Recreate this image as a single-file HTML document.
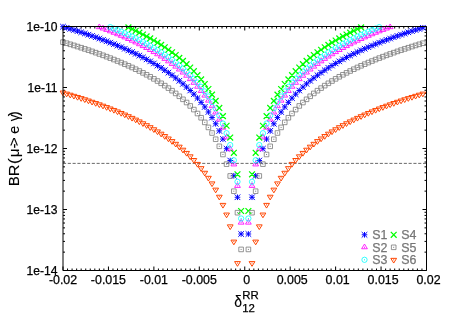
<!DOCTYPE html><html><head><meta charset="utf-8"><style>html,body{margin:0;padding:0;background:#fff}svg text{font-family:"Liberation Sans",sans-serif;fill:#000;stroke:#000;stroke-width:0.25px}</style></head><body><svg width="450" height="315" viewBox="0 0 450 315" style="display:block;will-change:transform">
<rect width="450" height="315" fill="#fff"/>
<path d="M63 270.5v-4M63 26.5v4M67.54 270.5v-2M67.54 26.5v2M72.09 270.5v-2M72.09 26.5v2M76.63 270.5v-2M76.63 26.5v2M81.17 270.5v-2M81.17 26.5v2M85.72 270.5v-2M85.72 26.5v2M90.26 270.5v-2M90.26 26.5v2M94.81 270.5v-2M94.81 26.5v2M99.35 270.5v-2M99.35 26.5v2M103.89 270.5v-2M103.89 26.5v2M108.44 270.5v-4M108.44 26.5v4M112.98 270.5v-2M112.98 26.5v2M117.53 270.5v-2M117.53 26.5v2M122.07 270.5v-2M122.07 26.5v2M126.61 270.5v-2M126.61 26.5v2M131.16 270.5v-2M131.16 26.5v2M135.7 270.5v-2M135.7 26.5v2M140.24 270.5v-2M140.24 26.5v2M144.79 270.5v-2M144.79 26.5v2M149.33 270.5v-2M149.33 26.5v2M153.88 270.5v-4M153.88 26.5v4M158.42 270.5v-2M158.42 26.5v2M162.96 270.5v-2M162.96 26.5v2M167.51 270.5v-2M167.51 26.5v2M172.05 270.5v-2M172.05 26.5v2M176.59 270.5v-2M176.59 26.5v2M181.14 270.5v-2M181.14 26.5v2M185.68 270.5v-2M185.68 26.5v2M190.22 270.5v-2M190.22 26.5v2M194.77 270.5v-2M194.77 26.5v2M199.31 270.5v-4M199.31 26.5v4M203.86 270.5v-2M203.86 26.5v2M208.4 270.5v-2M208.4 26.5v2M212.94 270.5v-2M212.94 26.5v2M217.49 270.5v-2M217.49 26.5v2M222.03 270.5v-2M222.03 26.5v2M226.58 270.5v-2M226.58 26.5v2M231.12 270.5v-2M231.12 26.5v2M235.66 270.5v-2M235.66 26.5v2M240.21 270.5v-2M240.21 26.5v2M244.75 270.5v-4M244.75 26.5v4M249.29 270.5v-2M249.29 26.5v2M253.84 270.5v-2M253.84 26.5v2M258.38 270.5v-2M258.38 26.5v2M262.92 270.5v-2M262.92 26.5v2M267.47 270.5v-2M267.47 26.5v2M272.01 270.5v-2M272.01 26.5v2M276.56 270.5v-2M276.56 26.5v2M281.1 270.5v-2M281.1 26.5v2M285.64 270.5v-2M285.64 26.5v2M290.19 270.5v-4M290.19 26.5v4M294.73 270.5v-2M294.73 26.5v2M299.27 270.5v-2M299.27 26.5v2M303.82 270.5v-2M303.82 26.5v2M308.36 270.5v-2M308.36 26.5v2M312.91 270.5v-2M312.91 26.5v2M317.45 270.5v-2M317.45 26.5v2M321.99 270.5v-2M321.99 26.5v2M326.54 270.5v-2M326.54 26.5v2M331.08 270.5v-2M331.08 26.5v2M335.62 270.5v-4M335.62 26.5v4M340.17 270.5v-2M340.17 26.5v2M344.71 270.5v-2M344.71 26.5v2M349.26 270.5v-2M349.26 26.5v2M353.8 270.5v-2M353.8 26.5v2M358.34 270.5v-2M358.34 26.5v2M362.89 270.5v-2M362.89 26.5v2M367.43 270.5v-2M367.43 26.5v2M371.98 270.5v-2M371.98 26.5v2M376.52 270.5v-2M376.52 26.5v2M381.06 270.5v-4M381.06 26.5v4M385.61 270.5v-2M385.61 26.5v2M390.15 270.5v-2M390.15 26.5v2M394.69 270.5v-2M394.69 26.5v2M399.24 270.5v-2M399.24 26.5v2M403.78 270.5v-2M403.78 26.5v2M408.32 270.5v-2M408.32 26.5v2M412.87 270.5v-2M412.87 26.5v2M417.41 270.5v-2M417.41 26.5v2M421.96 270.5v-2M421.96 26.5v2M426.5 270.5v-4M426.5 26.5v4M63 270.5h4M426.5 270.5h-4M63 252.14h2M426.5 252.14h-2M63 241.4h2M426.5 241.4h-2M63 233.77h2M426.5 233.77h-2M63 227.86h2M426.5 227.86h-2M63 223.03h2M426.5 223.03h-2M63 218.95h2M426.5 218.95h-2M63 215.41h2M426.5 215.41h-2M63 212.29h2M426.5 212.29h-2M63 209.5h4M426.5 209.5h-4M63 191.14h2M426.5 191.14h-2M63 180.4h2M426.5 180.4h-2M63 172.77h2M426.5 172.77h-2M63 166.86h2M426.5 166.86h-2M63 162.03h2M426.5 162.03h-2M63 157.95h2M426.5 157.95h-2M63 154.41h2M426.5 154.41h-2M63 151.29h2M426.5 151.29h-2M63 148.5h4M426.5 148.5h-4M63 130.14h2M426.5 130.14h-2M63 119.4h2M426.5 119.4h-2M63 111.77h2M426.5 111.77h-2M63 105.86h2M426.5 105.86h-2M63 101.03h2M426.5 101.03h-2M63 96.95h2M426.5 96.95h-2M63 93.41h2M426.5 93.41h-2M63 90.29h2M426.5 90.29h-2M63 87.5h4M426.5 87.5h-4M63 69.14h2M426.5 69.14h-2M63 58.4h2M426.5 58.4h-2M63 50.77h2M426.5 50.77h-2M63 44.86h2M426.5 44.86h-2M63 40.03h2M426.5 40.03h-2M63 35.95h2M426.5 35.95h-2M63 32.41h2M426.5 32.41h-2M63 29.29h2M426.5 29.29h-2M63 26.5h4M426.5 26.5h-4" stroke="#000" stroke-width="1.0" fill="none"/>
<path d="M63 163.39H426.5" stroke="#000" stroke-opacity="0.85" stroke-width="0.7" stroke-dasharray="3.1 1.7" fill="none"/>
<path d="M60.2 26.71H65.8M63 23.91V29.51M60.2 23.91L65.8 29.51M60.2 29.51L65.8 23.91M63.84 27.78H69.44M66.64 24.98V30.58M63.84 24.98L69.44 30.58M63.84 30.58L69.44 24.98M67.47 28.88H73.07M70.27 26.08V31.68M67.47 26.08L73.07 31.68M67.47 31.68L73.07 26.08M71.11 29.99H76.7M73.91 27.19V32.79M71.11 27.19L76.7 32.79M71.11 32.79L76.7 27.19M74.74 31.13H80.34M77.54 28.33V33.93M74.74 28.33L80.34 33.93M74.74 33.93L80.34 28.33M78.37 32.3H83.97M81.17 29.5V35.1M78.37 29.5L83.97 35.1M78.37 35.1L83.97 29.5M82.01 33.49H87.61M84.81 30.69V36.29M82.01 30.69L87.61 36.29M82.01 36.29L87.61 30.69M85.65 34.7H91.25M88.45 31.9V37.5M85.65 31.9L91.25 37.5M85.65 37.5L91.25 31.9M89.28 35.95H94.88M92.08 33.15V38.75M89.28 33.15L94.88 38.75M89.28 38.75L94.88 33.15M92.91 37.23H98.51M95.71 34.43V40.03M92.91 34.43L98.51 40.03M92.91 40.03L98.51 34.43M96.55 38.54H102.15M99.35 35.74V41.34M96.55 35.74L102.15 41.34M96.55 41.34L102.15 35.74M100.19 39.88H105.79M102.99 37.08V42.68M100.19 37.08L105.79 42.68M100.19 42.68L105.79 37.08M103.82 41.25H109.42M106.62 38.45V44.05M103.82 38.45L109.42 44.05M103.82 44.05L109.42 38.45M107.45 42.67H113.05M110.25 39.87V45.47M107.45 39.87L113.05 45.47M107.45 45.47L113.05 39.87M111.09 44.12H116.69M113.89 41.32V46.92M111.09 41.32L116.69 46.92M111.09 46.92L116.69 41.32M114.73 45.61H120.33M117.53 42.81V48.41M114.73 42.81L120.33 48.41M114.73 48.41L120.33 42.81M118.36 47.15H123.96M121.16 44.35V49.95M118.36 44.35L123.96 49.95M118.36 49.95L123.96 44.35M122 48.73H127.59M124.8 45.93V51.53M122 45.93L127.59 51.53M122 51.53L127.59 45.93M125.63 50.36H131.23M128.43 47.56V53.16M125.63 47.56L131.23 53.16M125.63 53.16L131.23 47.56M129.26 52.04H134.87M132.06 49.24V54.84M129.26 49.24L134.87 54.84M129.26 54.84L134.87 49.24M132.9 53.78H138.5M135.7 50.98V56.58M132.9 50.98L138.5 56.58M132.9 56.58L138.5 50.98M136.53 55.57H142.14M139.34 52.77V58.37M136.53 52.77L142.14 58.37M136.53 58.37L142.14 52.77M140.17 57.43H145.77M142.97 54.63V60.23M140.17 54.63L145.77 60.23M140.17 60.23L145.77 54.63M143.8 59.36H149.41M146.6 56.56V62.16M143.8 56.56L149.41 62.16M143.8 62.16L149.41 56.56M147.44 61.36H153.04M150.24 58.56V64.16M147.44 58.56L153.04 64.16M147.44 64.16L153.04 58.56M151.07 63.44H156.68M153.88 60.64V66.24M151.07 60.64L156.68 66.24M151.07 66.24L156.68 60.64M154.71 65.6H160.31M157.51 62.8V68.4M154.71 62.8L160.31 68.4M154.71 68.4L160.31 62.8M158.34 67.86H163.95M161.15 65.06V70.66M158.34 65.06L163.95 70.66M158.34 70.66L163.95 65.06M161.98 70.21H167.58M164.78 67.41V73.01M161.98 67.41L167.58 73.01M161.98 73.01L167.58 67.41M165.62 72.68H171.22M168.42 69.88V75.48M165.62 69.88L171.22 75.48M165.62 75.48L171.22 69.88M169.25 75.26H174.85M172.05 72.46V78.06M169.25 72.46L174.85 78.06M169.25 78.06L174.85 72.46M172.88 77.98H178.49M175.69 75.18V80.78M172.88 75.18L178.49 80.78M172.88 80.78L178.49 75.18M176.52 80.84H182.12M179.32 78.04V83.64M176.52 78.04L182.12 83.64M176.52 83.64L182.12 78.04M180.16 83.87H185.76M182.96 81.07V86.67M180.16 81.07L185.76 86.67M180.16 86.67L185.76 81.07M183.79 87.08H189.39M186.59 84.28V89.88M183.79 84.28L189.39 89.88M183.79 89.88L189.39 84.28M187.42 90.5H193.03M190.22 87.7V93.3M187.42 87.7L193.03 93.3M187.42 93.3L193.03 87.7M191.06 94.16H196.66M193.86 91.36V96.96M191.06 91.36L196.66 96.96M191.06 96.96L196.66 91.36M194.69 98.09H200.3M197.5 95.29V100.89M194.69 95.29L200.3 100.89M194.69 100.89L200.3 95.29M198.33 102.33H203.93M201.13 99.53V105.13M198.33 99.53L203.93 105.13M198.33 105.13L203.93 99.53M201.97 106.94H207.57M204.77 104.14V109.74M201.97 104.14L207.57 109.74M201.97 109.74L207.57 104.14M205.6 111.99H211.2M208.4 109.19V114.79M205.6 109.19L211.2 114.79M205.6 114.79L211.2 109.19M209.24 117.57H214.84M212.04 114.77V120.37M209.24 114.77L214.84 120.37M209.24 120.37L214.84 114.77M212.87 123.81H218.47M215.67 121.01V126.61M212.87 121.01L218.47 126.61M212.87 126.61L218.47 121.01M216.5 130.89H222.11M219.31 128.09V133.69M216.5 128.09L222.11 133.69M216.5 133.69L222.11 128.09M220.14 139.05H225.74M222.94 136.25V141.85M220.14 136.25L225.74 141.85M220.14 141.85L225.74 136.25M223.78 148.71H229.38M226.58 145.91V151.51M223.78 145.91L229.38 151.51M223.78 151.51L229.38 145.91M227.41 160.54H233.01M230.21 157.74V163.34M227.41 157.74L233.01 163.34M227.41 163.34L233.01 157.74M231.04 175.78H236.65M233.84 172.98V178.58M231.04 172.98L236.65 178.58M231.04 178.58L236.65 172.98M234.68 197.26H240.28M237.48 194.46V200.06M234.68 194.46L240.28 200.06M234.68 200.06L240.28 194.46M238.31 233.99H243.92M241.12 231.19V236.79M238.31 231.19L243.92 236.79M238.31 236.79L243.92 231.19M245.58 233.99H251.19M248.38 231.19V236.79M245.58 231.19L251.19 236.79M245.58 236.79L251.19 231.19M249.22 197.26H254.82M252.02 194.46V200.06M249.22 194.46L254.82 200.06M249.22 200.06L254.82 194.46M252.85 175.78H258.45M255.66 172.98V178.58M252.85 172.98L258.45 178.58M252.85 178.58L258.45 172.98M256.49 160.54H262.09M259.29 157.74V163.34M256.49 157.74L262.09 163.34M256.49 163.34L262.09 157.74M260.12 148.71H265.73M262.93 145.91V151.51M260.12 145.91L265.73 151.51M260.12 151.51L265.73 145.91M263.76 139.05H269.36M266.56 136.25V141.85M263.76 136.25L269.36 141.85M263.76 141.85L269.36 136.25M267.4 130.89H273M270.2 128.09V133.69M267.4 128.09L273 133.69M267.4 133.69L273 128.09M271.03 123.81H276.63M273.83 121.01V126.61M271.03 121.01L276.63 126.61M271.03 126.61L276.63 121.01M274.66 117.57H280.26M277.46 114.77V120.37M274.66 114.77L280.26 120.37M274.66 120.37L280.26 114.77M278.3 111.99H283.9M281.1 109.19V114.79M278.3 109.19L283.9 114.79M278.3 114.79L283.9 109.19M281.94 106.94H287.54M284.74 104.14V109.74M281.94 104.14L287.54 109.74M281.94 109.74L287.54 104.14M285.57 102.33H291.17M288.37 99.53V105.13M285.57 99.53L291.17 105.13M285.57 105.13L291.17 99.53M289.2 98.09H294.81M292 95.29V100.89M289.2 95.29L294.81 100.89M289.2 100.89L294.81 95.29M292.84 94.16H298.44M295.64 91.36V96.96M292.84 91.36L298.44 96.96M292.84 96.96L298.44 91.36M296.47 90.5H302.07M299.27 87.7V93.3M296.47 87.7L302.07 93.3M296.47 93.3L302.07 87.7M300.11 87.08H305.71M302.91 84.28V89.88M300.11 84.28L305.71 89.88M300.11 89.88L305.71 84.28M303.75 83.87H309.35M306.55 81.07V86.67M303.75 81.07L309.35 86.67M303.75 86.67L309.35 81.07M307.38 80.84H312.98M310.18 78.04V83.64M307.38 78.04L312.98 83.64M307.38 83.64L312.98 78.04M311.02 77.98H316.62M313.82 75.18V80.78M311.02 75.18L316.62 80.78M311.02 80.78L316.62 75.18M314.65 75.26H320.25M317.45 72.46V78.06M314.65 72.46L320.25 78.06M314.65 78.06L320.25 72.46M318.29 72.68H323.89M321.09 69.88V75.48M318.29 69.88L323.89 75.48M318.29 75.48L323.89 69.88M321.92 70.21H327.52M324.72 67.41V73.01M321.92 67.41L327.52 73.01M321.92 73.01L327.52 67.41M325.56 67.86H331.16M328.36 65.06V70.66M325.56 65.06L331.16 70.66M325.56 70.66L331.16 65.06M329.19 65.6H334.79M331.99 62.8V68.4M329.19 62.8L334.79 68.4M329.19 68.4L334.79 62.8M332.82 63.44H338.43M335.62 60.64V66.24M332.82 60.64L338.43 66.24M332.82 66.24L338.43 60.64M336.46 61.36H342.06M339.26 58.56V64.16M336.46 58.56L342.06 64.16M336.46 64.16L342.06 58.56M340.09 59.36H345.69M342.89 56.56V62.16M340.09 56.56L345.69 62.16M340.09 62.16L345.69 56.56M343.73 57.43H349.33M346.53 54.63V60.23M343.73 54.63L349.33 60.23M343.73 60.23L349.33 54.63M347.37 55.57H352.97M350.17 52.77V58.37M347.37 52.77L352.97 58.37M347.37 58.37L352.97 52.77M351 53.78H356.6M353.8 50.98V56.58M351 50.98L356.6 56.58M351 56.58L356.6 50.98M354.63 52.04H360.24M357.44 49.24V54.84M354.63 49.24L360.24 54.84M354.63 54.84L360.24 49.24M358.27 50.36H363.87M361.07 47.56V53.16M358.27 47.56L363.87 53.16M358.27 53.16L363.87 47.56M361.9 48.73H367.5M364.7 45.93V51.53M361.9 45.93L367.5 51.53M361.9 51.53L367.5 45.93M365.54 47.15H371.14M368.34 44.35V49.95M365.54 44.35L371.14 49.95M365.54 49.95L371.14 44.35M369.18 45.61H374.78M371.98 42.81V48.41M369.18 42.81L374.78 48.41M369.18 48.41L374.78 42.81M372.81 44.12H378.41M375.61 41.32V46.92M372.81 41.32L378.41 46.92M372.81 46.92L378.41 41.32M376.45 42.67H382.05M379.25 39.87V45.47M376.45 39.87L382.05 45.47M376.45 45.47L382.05 39.87M380.08 41.25H385.68M382.88 38.45V44.05M380.08 38.45L385.68 44.05M380.08 44.05L385.68 38.45M383.71 39.88H389.31M386.51 37.08V42.68M383.71 37.08L389.31 42.68M383.71 42.68L389.31 37.08M387.35 38.54H392.95M390.15 35.74V41.34M387.35 35.74L392.95 41.34M387.35 41.34L392.95 35.74M390.99 37.23H396.59M393.79 34.43V40.03M390.99 34.43L396.59 40.03M390.99 40.03L396.59 34.43M394.62 35.95H400.22M397.42 33.15V38.75M394.62 33.15L400.22 38.75M394.62 38.75L400.22 33.15M398.25 34.7H403.86M401.06 31.9V37.5M398.25 31.9L403.86 37.5M398.25 37.5L403.86 31.9M401.89 33.49H407.49M404.69 30.69V36.29M401.89 30.69L407.49 36.29M401.89 36.29L407.49 30.69M405.52 32.3H411.12M408.32 29.5V35.1M405.52 29.5L411.12 35.1M405.52 35.1L411.12 29.5M409.16 31.13H414.76M411.96 28.33V33.93M409.16 28.33L414.76 33.93M409.16 33.93L414.76 28.33M412.79 29.99H418.39M415.59 27.19V32.79M412.79 27.19L418.39 32.79M412.79 32.79L418.39 27.19M416.43 28.88H422.03M419.23 26.08V31.68M416.43 26.08L422.03 31.68M416.43 31.68L422.03 26.08M420.06 27.78H425.67M422.87 24.98V30.58M420.06 24.98L425.67 30.58M420.06 30.58L425.67 24.98" stroke="#0000ff" stroke-width="1.0" fill="none"/>
<path d="M99.35 23.98L96.45 28.68H102.25ZM102.99 25.32L100.09 30.02H105.89ZM106.62 26.7L103.72 31.4H109.52ZM110.25 28.11L107.35 32.81H113.16ZM113.89 29.56L110.99 34.26H116.79ZM117.53 31.06L114.62 35.76H120.43ZM121.16 32.59L118.26 37.29H124.06ZM124.8 34.18L121.89 38.87H127.7ZM128.43 35.81L125.53 40.5H131.33ZM132.06 37.49L129.16 42.19H134.97ZM135.7 39.23L132.8 43.92H138.6ZM139.34 41.02L136.44 45.72H142.24ZM142.97 42.88L140.07 47.58H145.87ZM146.6 44.81L143.7 49.51H149.5ZM150.24 46.81L147.34 51.51H153.14ZM153.88 48.89L150.97 53.58H156.78ZM157.51 51.05L154.61 55.75H160.41ZM161.15 53.3L158.25 58H164.05ZM164.78 55.66L161.88 60.36H167.68ZM168.42 58.12L165.52 62.82H171.32ZM172.05 60.71L169.15 65.41H174.95ZM175.69 63.43L172.78 68.12H178.59ZM179.32 66.29L176.42 70.99H182.22ZM182.96 69.32L180.06 74.02H185.86ZM186.59 72.53L183.69 77.23H189.49ZM190.22 75.95L187.32 80.65H193.12ZM193.86 79.61L190.96 84.3H196.76ZM197.5 83.53L194.59 88.23H200.4ZM201.13 87.77L198.23 92.47H204.03ZM204.77 92.38L201.87 97.08H207.67ZM208.4 97.43L205.5 102.13H211.3ZM212.04 103.02L209.14 107.71H214.94ZM215.67 109.26L212.77 113.95H218.57ZM219.31 116.33L216.41 121.03H222.21ZM222.94 124.5L220.04 129.2H225.84ZM226.58 134.16L223.68 138.86H229.48ZM230.21 145.98L227.31 150.68H233.11ZM233.84 161.23L230.94 165.92H236.75ZM237.48 182.71L234.58 187.41H240.38ZM241.12 219.43L238.22 224.13H244.02ZM248.38 219.43L245.48 224.13H251.28ZM252.02 182.71L249.12 187.41H254.92ZM255.66 161.23L252.75 165.92H258.56ZM259.29 145.98L256.39 150.68H262.19ZM262.93 134.16L260.03 138.86H265.82ZM266.56 124.5L263.66 129.2H269.46ZM270.2 116.33L267.3 121.03H273.1ZM273.83 109.26L270.93 113.95H276.73ZM277.46 103.02L274.56 107.71H280.36ZM281.1 97.43L278.2 102.13H284ZM284.74 92.38L281.84 97.08H287.63ZM288.37 87.77L285.47 92.47H291.27ZM292 83.53L289.11 88.23H294.9ZM295.64 79.61L292.74 84.3H298.54ZM299.27 75.95L296.38 80.65H302.17ZM302.91 72.53L300.01 77.23H305.81ZM306.55 69.32L303.65 74.02H309.44ZM310.18 66.29L307.28 70.99H313.08ZM313.82 63.43L310.92 68.12H316.72ZM317.45 60.71L314.55 65.41H320.35ZM321.09 58.12L318.19 62.82H323.99ZM324.72 55.66L321.82 60.36H327.62ZM328.36 53.3L325.46 58H331.25ZM331.99 51.05L329.09 55.75H334.89ZM335.62 48.89L332.73 53.58H338.52ZM339.26 46.81L336.36 51.51H342.16ZM342.89 44.81L340 49.51H345.79ZM346.53 42.88L343.63 47.58H349.43ZM350.17 41.02L347.27 45.72H353.06ZM353.8 39.23L350.9 43.92H356.7ZM357.44 37.49L354.54 42.19H360.33ZM361.07 35.81L358.17 40.5H363.97ZM364.7 34.18L361.81 38.87H367.6ZM368.34 32.59L365.44 37.29H371.24ZM371.98 31.06L369.08 35.76H374.88ZM375.61 29.56L372.71 34.26H378.51ZM379.25 28.11L376.35 32.81H382.15ZM382.88 26.7L379.98 31.4H385.78ZM386.51 25.32L383.62 30.02H389.41ZM390.15 23.98L387.25 28.68H393.05Z" stroke="#ff00ff" stroke-width="0.85" fill="none"/>
<path d="M98.85 27.23h1M102.49 28.57h1M106.12 29.95h1M109.75 31.36h1M113.39 32.81h1M117.03 34.31h1M120.66 35.84h1M124.3 37.42h1M127.93 39.05h1M131.56 40.74h1M135.2 42.47h1M138.84 44.27h1M142.47 46.13h1M146.1 48.06h1M149.74 50.06h1M153.38 52.13h1M157.01 54.3h1M160.65 56.55h1M164.28 58.91h1M167.92 61.37h1M171.55 63.96h1M175.19 66.67h1M178.82 69.54h1M182.46 72.57h1M186.09 75.78h1M189.72 79.2h1M193.36 82.85h1M197 86.78h1M200.63 91.02h1M204.27 95.63h1M207.9 100.68h1M211.54 106.26h1M215.17 112.5h1M218.81 119.58h1M222.44 127.75h1M226.08 137.41h1M229.71 149.23h1M233.34 164.47h1M236.98 185.96h1M240.62 222.68h1M247.88 222.68h1M251.52 185.96h1M255.16 164.47h1M258.79 149.23h1M262.43 137.41h1M266.06 127.75h1M269.7 119.58h1M273.33 112.5h1M276.96 106.26h1M280.6 100.68h1M284.24 95.63h1M287.87 91.02h1M291.5 86.78h1M295.14 82.85h1M298.77 79.2h1M302.41 75.78h1M306.05 72.57h1M309.68 69.54h1M313.32 66.67h1M316.95 63.96h1M320.59 61.37h1M324.22 58.91h1M327.86 56.55h1M331.49 54.3h1M335.12 52.13h1M338.76 50.06h1M342.39 48.06h1M346.03 46.13h1M349.67 44.27h1M353.3 42.47h1M356.94 40.74h1M360.57 39.05h1M364.2 37.42h1M367.84 35.84h1M371.48 34.31h1M375.11 32.81h1M378.75 31.36h1M382.38 29.95h1M386.01 28.57h1M389.65 27.23h1" stroke="#ff00ff" stroke-width="1" fill="none"/>
<path d="M107.6 27.18a2.65 2.65 0 1 0 5.3 0a2.65 2.65 0 1 0 -5.3 0M111.24 28.63a2.65 2.65 0 1 0 5.3 0a2.65 2.65 0 1 0 -5.3 0M114.88 30.12a2.65 2.65 0 1 0 5.3 0a2.65 2.65 0 1 0 -5.3 0M118.51 31.66a2.65 2.65 0 1 0 5.3 0a2.65 2.65 0 1 0 -5.3 0M122.14 33.24a2.65 2.65 0 1 0 5.3 0a2.65 2.65 0 1 0 -5.3 0M125.78 34.87a2.65 2.65 0 1 0 5.3 0a2.65 2.65 0 1 0 -5.3 0M129.41 36.55a2.65 2.65 0 1 0 5.3 0a2.65 2.65 0 1 0 -5.3 0M133.05 38.29a2.65 2.65 0 1 0 5.3 0a2.65 2.65 0 1 0 -5.3 0M136.69 40.09a2.65 2.65 0 1 0 5.3 0a2.65 2.65 0 1 0 -5.3 0M140.32 41.95a2.65 2.65 0 1 0 5.3 0a2.65 2.65 0 1 0 -5.3 0M143.95 43.87a2.65 2.65 0 1 0 5.3 0a2.65 2.65 0 1 0 -5.3 0M147.59 45.87a2.65 2.65 0 1 0 5.3 0a2.65 2.65 0 1 0 -5.3 0M151.22 47.95a2.65 2.65 0 1 0 5.3 0a2.65 2.65 0 1 0 -5.3 0M154.86 50.11a2.65 2.65 0 1 0 5.3 0a2.65 2.65 0 1 0 -5.3 0M158.5 52.37a2.65 2.65 0 1 0 5.3 0a2.65 2.65 0 1 0 -5.3 0M162.13 54.72a2.65 2.65 0 1 0 5.3 0a2.65 2.65 0 1 0 -5.3 0M165.77 57.19a2.65 2.65 0 1 0 5.3 0a2.65 2.65 0 1 0 -5.3 0M169.4 59.77a2.65 2.65 0 1 0 5.3 0a2.65 2.65 0 1 0 -5.3 0M173.03 62.49a2.65 2.65 0 1 0 5.3 0a2.65 2.65 0 1 0 -5.3 0M176.67 65.36a2.65 2.65 0 1 0 5.3 0a2.65 2.65 0 1 0 -5.3 0M180.31 68.38a2.65 2.65 0 1 0 5.3 0a2.65 2.65 0 1 0 -5.3 0M183.94 71.6a2.65 2.65 0 1 0 5.3 0a2.65 2.65 0 1 0 -5.3 0M187.57 75.02a2.65 2.65 0 1 0 5.3 0a2.65 2.65 0 1 0 -5.3 0M191.21 78.67a2.65 2.65 0 1 0 5.3 0a2.65 2.65 0 1 0 -5.3 0M194.84 82.6a2.65 2.65 0 1 0 5.3 0a2.65 2.65 0 1 0 -5.3 0M198.48 86.84a2.65 2.65 0 1 0 5.3 0a2.65 2.65 0 1 0 -5.3 0M202.12 91.45a2.65 2.65 0 1 0 5.3 0a2.65 2.65 0 1 0 -5.3 0M205.75 96.5a2.65 2.65 0 1 0 5.3 0a2.65 2.65 0 1 0 -5.3 0M209.39 102.08a2.65 2.65 0 1 0 5.3 0a2.65 2.65 0 1 0 -5.3 0M213.02 108.32a2.65 2.65 0 1 0 5.3 0a2.65 2.65 0 1 0 -5.3 0M216.66 115.4a2.65 2.65 0 1 0 5.3 0a2.65 2.65 0 1 0 -5.3 0M220.29 123.56a2.65 2.65 0 1 0 5.3 0a2.65 2.65 0 1 0 -5.3 0M223.93 133.22a2.65 2.65 0 1 0 5.3 0a2.65 2.65 0 1 0 -5.3 0M227.56 145.05a2.65 2.65 0 1 0 5.3 0a2.65 2.65 0 1 0 -5.3 0M231.19 160.29a2.65 2.65 0 1 0 5.3 0a2.65 2.65 0 1 0 -5.3 0M234.83 181.77a2.65 2.65 0 1 0 5.3 0a2.65 2.65 0 1 0 -5.3 0M238.47 218.5a2.65 2.65 0 1 0 5.3 0a2.65 2.65 0 1 0 -5.3 0M245.73 218.5a2.65 2.65 0 1 0 5.3 0a2.65 2.65 0 1 0 -5.3 0M249.37 181.77a2.65 2.65 0 1 0 5.3 0a2.65 2.65 0 1 0 -5.3 0M253 160.29a2.65 2.65 0 1 0 5.3 0a2.65 2.65 0 1 0 -5.3 0M256.64 145.05a2.65 2.65 0 1 0 5.3 0a2.65 2.65 0 1 0 -5.3 0M260.28 133.22a2.65 2.65 0 1 0 5.3 0a2.65 2.65 0 1 0 -5.3 0M263.91 123.56a2.65 2.65 0 1 0 5.3 0a2.65 2.65 0 1 0 -5.3 0M267.55 115.4a2.65 2.65 0 1 0 5.3 0a2.65 2.65 0 1 0 -5.3 0M271.18 108.32a2.65 2.65 0 1 0 5.3 0a2.65 2.65 0 1 0 -5.3 0M274.81 102.08a2.65 2.65 0 1 0 5.3 0a2.65 2.65 0 1 0 -5.3 0M278.45 96.5a2.65 2.65 0 1 0 5.3 0a2.65 2.65 0 1 0 -5.3 0M282.09 91.45a2.65 2.65 0 1 0 5.3 0a2.65 2.65 0 1 0 -5.3 0M285.72 86.84a2.65 2.65 0 1 0 5.3 0a2.65 2.65 0 1 0 -5.3 0M289.36 82.6a2.65 2.65 0 1 0 5.3 0a2.65 2.65 0 1 0 -5.3 0M292.99 78.67a2.65 2.65 0 1 0 5.3 0a2.65 2.65 0 1 0 -5.3 0M296.62 75.02a2.65 2.65 0 1 0 5.3 0a2.65 2.65 0 1 0 -5.3 0M300.26 71.6a2.65 2.65 0 1 0 5.3 0a2.65 2.65 0 1 0 -5.3 0M303.9 68.38a2.65 2.65 0 1 0 5.3 0a2.65 2.65 0 1 0 -5.3 0M307.53 65.36a2.65 2.65 0 1 0 5.3 0a2.65 2.65 0 1 0 -5.3 0M311.17 62.49a2.65 2.65 0 1 0 5.3 0a2.65 2.65 0 1 0 -5.3 0M314.8 59.77a2.65 2.65 0 1 0 5.3 0a2.65 2.65 0 1 0 -5.3 0M318.44 57.19a2.65 2.65 0 1 0 5.3 0a2.65 2.65 0 1 0 -5.3 0M322.07 54.72a2.65 2.65 0 1 0 5.3 0a2.65 2.65 0 1 0 -5.3 0M325.71 52.37a2.65 2.65 0 1 0 5.3 0a2.65 2.65 0 1 0 -5.3 0M329.34 50.11a2.65 2.65 0 1 0 5.3 0a2.65 2.65 0 1 0 -5.3 0M332.98 47.95a2.65 2.65 0 1 0 5.3 0a2.65 2.65 0 1 0 -5.3 0M336.61 45.87a2.65 2.65 0 1 0 5.3 0a2.65 2.65 0 1 0 -5.3 0M340.25 43.87a2.65 2.65 0 1 0 5.3 0a2.65 2.65 0 1 0 -5.3 0M343.88 41.95a2.65 2.65 0 1 0 5.3 0a2.65 2.65 0 1 0 -5.3 0M347.52 40.09a2.65 2.65 0 1 0 5.3 0a2.65 2.65 0 1 0 -5.3 0M351.15 38.29a2.65 2.65 0 1 0 5.3 0a2.65 2.65 0 1 0 -5.3 0M354.79 36.55a2.65 2.65 0 1 0 5.3 0a2.65 2.65 0 1 0 -5.3 0M358.42 34.87a2.65 2.65 0 1 0 5.3 0a2.65 2.65 0 1 0 -5.3 0M362.06 33.24a2.65 2.65 0 1 0 5.3 0a2.65 2.65 0 1 0 -5.3 0M365.69 31.66a2.65 2.65 0 1 0 5.3 0a2.65 2.65 0 1 0 -5.3 0M369.33 30.12a2.65 2.65 0 1 0 5.3 0a2.65 2.65 0 1 0 -5.3 0M372.96 28.63a2.65 2.65 0 1 0 5.3 0a2.65 2.65 0 1 0 -5.3 0M376.6 27.18a2.65 2.65 0 1 0 5.3 0a2.65 2.65 0 1 0 -5.3 0" stroke="#00ffff" stroke-width="0.8" fill="none"/>
<path d="M109.75 27.18h1M113.39 28.63h1M117.03 30.12h1M120.66 31.66h1M124.3 33.24h1M127.93 34.87h1M131.56 36.55h1M135.2 38.29h1M138.84 40.09h1M142.47 41.95h1M146.1 43.87h1M149.74 45.87h1M153.38 47.95h1M157.01 50.11h1M160.65 52.37h1M164.28 54.72h1M167.92 57.19h1M171.55 59.77h1M175.19 62.49h1M178.82 65.36h1M182.46 68.38h1M186.09 71.6h1M189.72 75.02h1M193.36 78.67h1M197 82.6h1M200.63 86.84h1M204.27 91.45h1M207.9 96.5h1M211.54 102.08h1M215.17 108.32h1M218.81 115.4h1M222.44 123.56h1M226.08 133.22h1M229.71 145.05h1M233.34 160.29h1M236.98 181.77h1M240.62 218.5h1M247.88 218.5h1M251.52 181.77h1M255.16 160.29h1M258.79 145.05h1M262.43 133.22h1M266.06 123.56h1M269.7 115.4h1M273.33 108.32h1M276.96 102.08h1M280.6 96.5h1M284.24 91.45h1M287.87 86.84h1M291.5 82.6h1M295.14 78.67h1M298.77 75.02h1M302.41 71.6h1M306.05 68.38h1M309.68 65.36h1M313.32 62.49h1M316.95 59.77h1M320.59 57.19h1M324.22 54.72h1M327.86 52.37h1M331.49 50.11h1M335.12 47.95h1M338.76 45.87h1M342.39 43.87h1M346.03 41.95h1M349.67 40.09h1M353.3 38.29h1M356.94 36.55h1M360.57 34.87h1M364.2 33.24h1M367.84 31.66h1M371.48 30.12h1M375.11 28.63h1M378.75 27.18h1" stroke="#00ffff" stroke-width="1" fill="none"/>
<path d="M125.53 24.5L131.33 30.3M125.53 30.3L131.33 24.5M129.16 26.18L134.97 31.98M129.16 31.98L134.97 26.18M132.8 27.92L138.6 33.72M132.8 33.72L138.6 27.92M136.44 29.71L142.24 35.51M136.44 35.51L142.24 29.71M140.07 31.57L145.87 37.37M140.07 37.37L145.87 31.57M143.7 33.5L149.5 39.3M143.7 39.3L149.5 33.5M147.34 35.5L153.14 41.3M147.34 41.3L153.14 35.5M150.97 37.58L156.78 43.38M150.97 43.38L156.78 37.58M154.61 39.74L160.41 45.54M154.61 45.54L160.41 39.74M158.25 42L164.05 47.8M158.25 47.8L164.05 42M161.88 44.35L167.68 50.15M161.88 50.15L167.68 44.35M165.52 46.82L171.32 52.62M165.52 52.62L171.32 46.82M169.15 49.4L174.95 55.2M169.15 55.2L174.95 49.4M172.78 52.12L178.59 57.92M172.78 57.92L178.59 52.12M176.42 54.98L182.22 60.78M176.42 60.78L182.22 54.98M180.06 58.01L185.86 63.81M180.06 63.81L185.86 58.01M183.69 61.22L189.49 67.02M183.69 67.02L189.49 61.22M187.32 64.64L193.12 70.44M187.32 70.44L193.12 64.64M190.96 68.3L196.76 74.1M190.96 74.1L196.76 68.3M194.59 72.23L200.4 78.03M194.59 78.03L200.4 72.23M198.23 76.47L204.03 82.27M198.23 82.27L204.03 76.47M201.87 81.08L207.67 86.88M201.87 86.88L207.67 81.08M205.5 86.13L211.3 91.93M205.5 91.93L211.3 86.13M209.14 91.71L214.94 97.51M209.14 97.51L214.94 91.71M212.77 97.95L218.57 103.75M212.77 103.75L218.57 97.95M216.41 105.02L222.21 110.82M216.41 110.82L222.21 105.02M220.04 113.19L225.84 118.99M220.04 118.99L225.84 113.19M223.68 122.85L229.48 128.65M223.68 128.65L229.48 122.85M227.31 134.68L233.11 140.48M227.31 140.48L233.11 134.68M230.94 149.92L236.75 155.72M230.94 155.72L236.75 149.92M234.58 171.4L240.38 177.2M234.58 177.2L240.38 171.4M238.22 208.13L244.02 213.93M238.22 213.93L244.02 208.13M245.48 208.13L251.28 213.93M245.48 213.93L251.28 208.13M249.12 171.4L254.92 177.2M249.12 177.2L254.92 171.4M252.75 149.92L258.56 155.72M252.75 155.72L258.56 149.92M256.39 134.68L262.19 140.48M256.39 140.48L262.19 134.68M260.03 122.85L265.82 128.65M260.03 128.65L265.82 122.85M263.66 113.19L269.46 118.99M263.66 118.99L269.46 113.19M267.3 105.02L273.1 110.82M267.3 110.82L273.1 105.02M270.93 97.95L276.73 103.75M270.93 103.75L276.73 97.95M274.56 91.71L280.36 97.51M274.56 97.51L280.36 91.71M278.2 86.13L284 91.93M278.2 91.93L284 86.13M281.84 81.08L287.63 86.88M281.84 86.88L287.63 81.08M285.47 76.47L291.27 82.27M285.47 82.27L291.27 76.47M289.11 72.23L294.9 78.03M289.11 78.03L294.9 72.23M292.74 68.3L298.54 74.1M292.74 74.1L298.54 68.3M296.38 64.64L302.17 70.44M296.38 70.44L302.17 64.64M300.01 61.22L305.81 67.02M300.01 67.02L305.81 61.22M303.65 58.01L309.44 63.81M303.65 63.81L309.44 58.01M307.28 54.98L313.08 60.78M307.28 60.78L313.08 54.98M310.92 52.12L316.72 57.92M310.92 57.92L316.72 52.12M314.55 49.4L320.35 55.2M314.55 55.2L320.35 49.4M318.19 46.82L323.99 52.62M318.19 52.62L323.99 46.82M321.82 44.35L327.62 50.15M321.82 50.15L327.62 44.35M325.46 42L331.25 47.8M325.46 47.8L331.25 42M329.09 39.74L334.89 45.54M329.09 45.54L334.89 39.74M332.73 37.58L338.52 43.38M332.73 43.38L338.52 37.58M336.36 35.5L342.16 41.3M336.36 41.3L342.16 35.5M340 33.5L345.79 39.3M340 39.3L345.79 33.5M343.63 31.57L349.43 37.37M343.63 37.37L349.43 31.57M347.27 29.71L353.06 35.51M347.27 35.51L353.06 29.71M350.9 27.92L356.7 33.72M350.9 33.72L356.7 27.92M354.54 26.18L360.33 31.98M354.54 31.98L360.33 26.18M358.17 24.5L363.97 30.3M358.17 30.3L363.97 24.5" stroke="#00ff00" stroke-width="1.25" fill="none"/>
<path d="M60.7 39.85H65.3V44.45H60.7ZM64.34 40.92H68.94V45.52H64.34ZM67.97 42.01H72.57V46.61H67.97ZM71.61 43.12H76.2V47.72H71.61ZM75.24 44.26H79.84V48.86H75.24ZM78.87 45.43H83.47V50.03H78.87ZM82.51 46.62H87.11V51.22H82.51ZM86.15 47.84H90.75V52.44H86.15ZM89.78 49.08H94.38V53.68H89.78ZM93.41 50.36H98.01V54.96H93.41ZM97.05 51.67H101.65V56.27H97.05ZM100.69 53.01H105.29V57.61H100.69ZM104.32 54.39H108.92V58.99H104.32ZM107.95 55.8H112.55V60.4H107.95ZM111.59 57.25H116.19V61.85H111.59ZM115.23 58.74H119.83V63.34H115.23ZM118.86 60.28H123.46V64.88H118.86ZM122.5 61.86H127.09V66.46H122.5ZM126.13 63.49H130.73V68.09H126.13ZM129.76 65.17H134.37V69.77H129.76ZM133.4 66.91H138V71.51H133.4ZM137.03 68.71H141.64V73.31H137.03ZM140.67 70.57H145.27V75.17H140.67ZM144.3 72.49H148.91V77.09H144.3ZM147.94 74.49H152.54V79.09H147.94ZM151.57 76.57H156.18V81.17H151.57ZM155.21 78.73H159.81V83.33H155.21ZM158.84 80.99H163.45V85.59H158.84ZM162.48 83.34H167.08V87.94H162.48ZM166.12 85.81H170.72V90.41H166.12ZM169.75 88.39H174.35V92.99H169.75ZM173.38 91.11H177.99V95.71H173.38ZM177.02 93.98H181.62V98.58H177.02ZM180.66 97.01H185.26V101.61H180.66ZM184.29 100.22H188.89V104.82H184.29ZM187.92 103.64H192.53V108.24H187.92ZM191.56 107.29H196.16V111.89H191.56ZM195.19 111.22H199.8V115.82H195.19ZM198.83 115.46H203.43V120.06H198.83ZM202.47 120.07H207.07V124.67H202.47ZM206.1 125.12H210.7V129.72H206.1ZM209.74 130.7H214.34V135.3H209.74ZM213.37 136.94H217.97V141.54H213.37ZM217 144.02H221.61V148.62H217ZM220.64 152.19H225.24V156.79H220.64ZM224.28 161.85H228.88V166.45H224.28ZM227.91 173.67H232.51V178.27H227.91ZM231.54 188.91H236.15V193.51H231.54ZM235.18 210.39H239.78V214.99H235.18ZM238.81 247.12H243.42V251.72H238.81ZM246.08 247.12H250.69V251.72H246.08ZM249.72 210.39H254.32V214.99H249.72ZM253.35 188.91H257.95V193.51H253.35ZM256.99 173.67H261.59V178.27H256.99ZM260.62 161.85H265.23V166.45H260.62ZM264.26 152.19H268.86V156.79H264.26ZM267.9 144.02H272.5V148.62H267.9ZM271.53 136.94H276.13V141.54H271.53ZM275.16 130.7H279.76V135.3H275.16ZM278.8 125.12H283.4V129.72H278.8ZM282.44 120.07H287.04V124.67H282.44ZM286.07 115.46H290.67V120.06H286.07ZM289.7 111.22H294.31V115.82H289.7ZM293.34 107.29H297.94V111.89H293.34ZM296.97 103.64H301.57V108.24H296.97ZM300.61 100.22H305.21V104.82H300.61ZM304.25 97.01H308.85V101.61H304.25ZM307.88 93.98H312.48V98.58H307.88ZM311.52 91.11H316.12V95.71H311.52ZM315.15 88.39H319.75V92.99H315.15ZM318.79 85.81H323.39V90.41H318.79ZM322.42 83.34H327.02V87.94H322.42ZM326.06 80.99H330.66V85.59H326.06ZM329.69 78.73H334.29V83.33H329.69ZM333.32 76.57H337.93V81.17H333.32ZM336.96 74.49H341.56V79.09H336.96ZM340.59 72.49H345.19V77.09H340.59ZM344.23 70.57H348.83V75.17H344.23ZM347.87 68.71H352.47V73.31H347.87ZM351.5 66.91H356.1V71.51H351.5ZM355.13 65.17H359.74V69.77H355.13ZM358.77 63.49H363.37V68.09H358.77ZM362.4 61.86H367V66.46H362.4ZM366.04 60.28H370.64V64.88H366.04ZM369.68 58.74H374.28V63.34H369.68ZM373.31 57.25H377.91V61.85H373.31ZM376.95 55.8H381.55V60.4H376.95ZM380.58 54.39H385.18V58.99H380.58ZM384.21 53.01H388.81V57.61H384.21ZM387.85 51.67H392.45V56.27H387.85ZM391.49 50.36H396.09V54.96H391.49ZM395.12 49.08H399.72V53.68H395.12ZM398.75 47.84H403.36V52.44H398.75ZM402.39 46.62H406.99V51.22H402.39ZM406.02 45.43H410.62V50.03H406.02ZM409.66 44.26H414.26V48.86H409.66ZM413.29 43.12H417.89V47.72H413.29ZM416.93 42.01H421.53V46.61H416.93ZM420.56 40.92H425.17V45.52H420.56Z" stroke="#7a7a7a" stroke-width="0.8" fill="none"/>
<path d="M62.5 42.15h1M66.14 43.22h1M69.77 44.31h1M73.41 45.42h1M77.04 46.56h1M80.67 47.73h1M84.31 48.92h1M87.95 50.14h1M91.58 51.38h1M95.21 52.66h1M98.85 53.97h1M102.49 55.31h1M106.12 56.69h1M109.75 58.1h1M113.39 59.55h1M117.03 61.04h1M120.66 62.58h1M124.3 64.16h1M127.93 65.79h1M131.56 67.47h1M135.2 69.21h1M138.84 71.01h1M142.47 72.87h1M146.1 74.79h1M149.74 76.79h1M153.38 78.87h1M157.01 81.03h1M160.65 83.29h1M164.28 85.64h1M167.92 88.11h1M171.55 90.69h1M175.19 93.41h1M178.82 96.28h1M182.46 99.31h1M186.09 102.52h1M189.72 105.94h1M193.36 109.59h1M197 113.52h1M200.63 117.76h1M204.27 122.37h1M207.9 127.42h1M211.54 133h1M215.17 139.24h1M218.81 146.32h1M222.44 154.49h1M226.08 164.15h1M229.71 175.97h1M233.34 191.21h1M236.98 212.69h1M240.62 249.42h1M247.88 249.42h1M251.52 212.69h1M255.16 191.21h1M258.79 175.97h1M262.43 164.15h1M266.06 154.49h1M269.7 146.32h1M273.33 139.24h1M276.96 133h1M280.6 127.42h1M284.24 122.37h1M287.87 117.76h1M291.5 113.52h1M295.14 109.59h1M298.77 105.94h1M302.41 102.52h1M306.05 99.31h1M309.68 96.28h1M313.32 93.41h1M316.95 90.69h1M320.59 88.11h1M324.22 85.64h1M327.86 83.29h1M331.49 81.03h1M335.12 78.87h1M338.76 76.79h1M342.39 74.79h1M346.03 72.87h1M349.67 71.01h1M353.3 69.21h1M356.94 67.47h1M360.57 65.79h1M364.2 64.16h1M367.84 62.58h1M371.48 61.04h1M375.11 59.55h1M378.75 58.1h1M382.38 56.69h1M386.01 55.31h1M389.65 53.97h1M393.29 52.66h1M396.92 51.38h1M400.56 50.14h1M404.19 48.92h1M407.82 47.73h1M411.46 46.56h1M415.09 45.42h1M418.73 44.31h1M422.37 43.22h1" stroke="#7a7a7a" stroke-width="1" fill="none"/>
<path d="M63 95.75L60.1 91.05H65.9ZM66.64 96.82L63.74 92.12H69.54ZM70.27 97.91L67.37 93.21H73.17ZM73.91 99.03L71 94.33H76.81ZM77.54 100.17L74.64 95.47H80.44ZM81.17 101.33L78.27 96.63H84.07ZM84.81 102.52L81.91 97.82H87.71ZM88.45 103.74L85.55 99.04H91.35ZM92.08 104.99L89.18 100.29H94.98ZM95.71 106.26L92.81 101.56H98.61ZM99.35 107.57L96.45 102.87H102.25ZM102.99 108.91L100.09 104.21H105.89ZM106.62 110.29L103.72 105.59H109.52ZM110.25 111.7L107.35 107H113.16ZM113.89 113.15L110.99 108.46H116.79ZM117.53 114.65L114.62 109.95H120.43ZM121.16 116.18L118.26 111.48H124.06ZM124.8 117.76L121.89 113.07H127.7ZM128.43 119.39L125.53 114.7H131.33ZM132.06 121.08L129.16 116.38H134.97ZM135.7 122.81L132.8 118.12H138.6ZM139.34 124.61L136.44 119.91H142.24ZM142.97 126.47L140.07 121.77H145.87ZM146.6 128.4L143.7 123.7H149.5ZM150.24 130.4L147.34 125.7H153.14ZM153.88 132.47L150.97 127.78H156.78ZM157.51 134.64L154.61 129.94H160.41ZM161.15 136.89L158.25 132.19H164.05ZM164.78 139.25L161.88 134.55H167.68ZM168.42 141.71L165.52 137.01H171.32ZM172.05 144.3L169.15 139.6H174.95ZM175.69 147.01L172.78 142.32H178.59ZM179.32 149.88L176.42 145.18H182.22ZM182.96 152.91L180.06 148.21H185.86ZM186.59 156.12L183.69 151.42H189.49ZM190.22 159.54L187.32 154.84H193.12ZM193.86 163.19L190.96 158.5H196.76ZM197.5 167.12L194.59 162.42H200.4ZM201.13 171.36L198.23 166.66H204.03ZM204.77 175.97L201.87 171.27H207.67ZM208.4 181.02L205.5 176.32H211.3ZM212.04 186.6L209.14 181.91H214.94ZM215.67 192.85L212.77 188.15H218.57ZM219.31 199.92L216.41 195.22H222.21ZM222.94 208.09L220.04 203.39H225.84ZM226.58 217.75L223.68 213.05H229.48ZM230.21 229.57L227.31 224.87H233.11ZM233.84 244.81L230.94 240.12H236.75ZM237.48 266.3L234.58 261.6H240.38ZM252.02 266.3L249.12 261.6H254.92ZM255.66 244.81L252.75 240.12H258.56ZM259.29 229.57L256.39 224.87H262.19ZM262.93 217.75L260.03 213.05H265.82ZM266.56 208.09L263.66 203.39H269.46ZM270.2 199.92L267.3 195.22H273.1ZM273.83 192.85L270.93 188.15H276.73ZM277.46 186.6L274.56 181.91H280.36ZM281.1 181.02L278.2 176.32H284ZM284.74 175.97L281.84 171.27H287.63ZM288.37 171.36L285.47 166.66H291.27ZM292 167.12L289.11 162.42H294.9ZM295.64 163.19L292.74 158.5H298.54ZM299.27 159.54L296.38 154.84H302.17ZM302.91 156.12L300.01 151.42H305.81ZM306.55 152.91L303.65 148.21H309.44ZM310.18 149.88L307.28 145.18H313.08ZM313.82 147.01L310.92 142.32H316.72ZM317.45 144.3L314.55 139.6H320.35ZM321.09 141.71L318.19 137.01H323.99ZM324.72 139.25L321.82 134.55H327.62ZM328.36 136.89L325.46 132.19H331.25ZM331.99 134.64L329.09 129.94H334.89ZM335.62 132.47L332.73 127.78H338.52ZM339.26 130.4L336.36 125.7H342.16ZM342.89 128.4L340 123.7H345.79ZM346.53 126.47L343.63 121.77H349.43ZM350.17 124.61L347.27 119.91H353.06ZM353.8 122.81L350.9 118.12H356.7ZM357.44 121.08L354.54 116.38H360.33ZM361.07 119.39L358.17 114.7H363.97ZM364.7 117.76L361.81 113.07H367.6ZM368.34 116.18L365.44 111.48H371.24ZM371.98 114.65L369.08 109.95H374.88ZM375.61 113.15L372.71 108.46H378.51ZM379.25 111.7L376.35 107H382.15ZM382.88 110.29L379.98 105.59H385.78ZM386.51 108.91L383.62 104.21H389.41ZM390.15 107.57L387.25 102.87H393.05ZM393.79 106.26L390.89 101.56H396.69ZM397.42 104.99L394.52 100.29H400.32ZM401.06 103.74L398.16 99.04H403.95ZM404.69 102.52L401.79 97.82H407.59ZM408.32 101.33L405.43 96.63H411.22ZM411.96 100.17L409.06 95.47H414.86ZM415.59 99.03L412.69 94.33H418.49ZM419.23 97.91L416.33 93.21H422.13ZM422.87 96.82L419.97 92.12H425.76Z" stroke="#ff4500" stroke-width="1.0" fill="none"/>
<path d="M62.5 92.5h1M66.14 93.57h1M69.77 94.66h1M73.41 95.78h1M77.04 96.92h1M80.67 98.08h1M84.31 99.27h1M87.95 100.49h1M91.58 101.74h1M95.21 103.01h1M98.85 104.32h1M102.49 105.66h1M106.12 107.04h1M109.75 108.45h1M113.39 109.91h1M117.03 111.4h1M120.66 112.93h1M124.3 114.52h1M127.93 116.15h1M131.56 117.83h1M135.2 119.57h1M138.84 121.36h1M142.47 123.22h1M146.1 125.15h1M149.74 127.15h1M153.38 129.23h1M157.01 131.39h1M160.65 133.64h1M164.28 136h1M167.92 138.46h1M171.55 141.05h1M175.19 143.77h1M178.82 146.63h1M182.46 149.66h1M186.09 152.87h1M189.72 156.29h1M193.36 159.95h1M197 163.87h1M200.63 168.11h1M204.27 172.72h1M207.9 177.77h1M211.54 183.36h1M215.17 189.6h1M218.81 196.67h1M222.44 204.84h1M226.08 214.5h1M229.71 226.32h1M233.34 241.57h1M236.98 263.05h1M251.52 263.05h1M255.16 241.57h1M258.79 226.32h1M262.43 214.5h1M266.06 204.84h1M269.7 196.67h1M273.33 189.6h1M276.96 183.36h1M280.6 177.77h1M284.24 172.72h1M287.87 168.11h1M291.5 163.87h1M295.14 159.95h1M298.77 156.29h1M302.41 152.87h1M306.05 149.66h1M309.68 146.63h1M313.32 143.77h1M316.95 141.05h1M320.59 138.46h1M324.22 136h1M327.86 133.64h1M331.49 131.39h1M335.12 129.23h1M338.76 127.15h1M342.39 125.15h1M346.03 123.22h1M349.67 121.36h1M353.3 119.57h1M356.94 117.83h1M360.57 116.15h1M364.2 114.52h1M367.84 112.93h1M371.48 111.4h1M375.11 109.91h1M378.75 108.45h1M382.38 107.04h1M386.01 105.66h1M389.65 104.32h1M393.29 103.01h1M396.92 101.74h1M400.56 100.49h1M404.19 99.27h1M407.82 98.08h1M411.46 96.92h1M415.09 95.78h1M418.73 94.66h1M422.37 93.57h1" stroke="#ff4500" stroke-width="1" fill="none"/>
<path d="M63 26.5H426.5V270.5H63Z" stroke="#000" stroke-width="1.0" fill="none"/>
<path d="M361.7 234.8H367.3M364.5 232V237.6M361.7 232L367.3 237.6M361.7 237.6L367.3 232" stroke="#0000ff" stroke-width="1.0" fill="none"/>
<text x="372.3" y="239.10000000000002" font-size="12.4" style="fill:#767676;stroke:#767676">S1</text>
<path d="M364.5 244.05L361.6 248.75H367.4Z" stroke="#ff00ff" stroke-width="0.85" fill="none"/>
<path d="M364 247.3h1" stroke="#ff00ff" stroke-width="1"/>
<text x="372.3" y="251.60000000000002" font-size="12.4" style="fill:#767676;stroke:#767676">S2</text>
<path d="M361.85 259.8a2.65 2.65 0 1 0 5.3 0a2.65 2.65 0 1 0 -5.3 0" stroke="#00ffff" stroke-width="0.8" fill="none"/>
<path d="M364 259.8h1" stroke="#00ffff" stroke-width="1"/>
<text x="372.3" y="264.1" font-size="12.4" style="fill:#767676;stroke:#767676">S3</text>
<path d="M390.8 231.9L396.6 237.7M390.8 237.7L396.6 231.9" stroke="#00ff00" stroke-width="1.25" fill="none"/>
<text x="401.3" y="239.10000000000002" font-size="12.4" style="fill:#767676;stroke:#767676">S4</text>
<path d="M391.4 245H396V249.6H391.4Z" stroke="#7a7a7a" stroke-width="0.8" fill="none"/>
<path d="M393.2 247.3h1" stroke="#7a7a7a" stroke-width="1"/>
<text x="401.3" y="251.60000000000002" font-size="12.4" style="fill:#767676;stroke:#767676">S5</text>
<path d="M393.7 263.05L390.8 258.35H396.6Z" stroke="#ff4500" stroke-width="1.0" fill="none"/>
<path d="M393.2 259.8h1" stroke="#ff4500" stroke-width="1"/>
<text x="401.3" y="264.1" font-size="12.4" style="fill:#767676;stroke:#767676">S6</text>
<text x="57.5" y="275.2" font-size="12.1" text-anchor="end">1e-14</text>
<text x="57.5" y="214.2" font-size="12.1" text-anchor="end">1e-13</text>
<text x="57.5" y="153.2" font-size="12.1" text-anchor="end">1e-12</text>
<text x="57.5" y="92.2" font-size="12.1" text-anchor="end">1e-11</text>
<text x="57.5" y="31.2" font-size="12.1" text-anchor="end">1e-10</text>
<text x="63" y="284.2" font-size="12.4" text-anchor="middle">-0.02</text>
<text x="108.44" y="284.2" font-size="12.4" text-anchor="middle">-0.015</text>
<text x="153.88" y="284.2" font-size="12.4" text-anchor="middle">-0.01</text>
<text x="199.31" y="284.2" font-size="12.4" text-anchor="middle">-0.005</text>
<text x="246.75" y="284.2" font-size="12.4" text-anchor="middle">0</text>
<text x="292.19" y="284.2" font-size="12.4" text-anchor="middle">0.005</text>
<text x="337.62" y="284.2" font-size="12.4" text-anchor="middle">0.01</text>
<text x="383.06" y="284.2" font-size="12.4" text-anchor="middle">0.015</text>
<text x="428.5" y="284.2" font-size="12.4" text-anchor="middle">0.02</text>
<text transform="translate(234.2 306.8) scale(0.87 1)" font-size="16" style="stroke-width:0.12px">δ</text>
<text x="242.3" y="299.1" font-size="11.4">RR</text>
<text x="242.2" y="311.6" font-size="11.4">12</text>
<text transform="translate(19 186.3) rotate(-90) scale(0.99 1)" font-size="15.3" style="stroke-width:0.12px">B</text>
<text transform="translate(19 176.17) rotate(-90) scale(1.06 1)" font-size="15.3" style="stroke-width:0.12px">R</text>
<text transform="translate(19 164.2) rotate(-90) scale(1.2 1)" font-size="15.3" style="stroke-width:0.12px">(</text>
<text transform="translate(19 157.26) rotate(-90) scale(0.99 1)" font-size="15.3" style="stroke-width:0.12px">μ</text>
<text transform="translate(19 148.51) rotate(-90) scale(0.99 1)" font-size="15.3" style="stroke-width:0.12px">-</text>
<text transform="translate(19 146.2) rotate(-90) scale(1.0 1)" font-size="15.3" style="stroke-width:0.12px">&gt;</text>
<text transform="translate(19 133.8) rotate(-90) scale(0.93 1)" font-size="15.3" style="stroke-width:0.12px">e</text>
<text transform="translate(19 121.3) rotate(-90) scale(0.9 1)" font-size="15.3" style="stroke-width:0.12px">γ</text>
<text transform="translate(19 116.2) rotate(-90) scale(0.99 1)" font-size="15.3" style="stroke-width:0.12px">)</text>
</svg></body></html>
